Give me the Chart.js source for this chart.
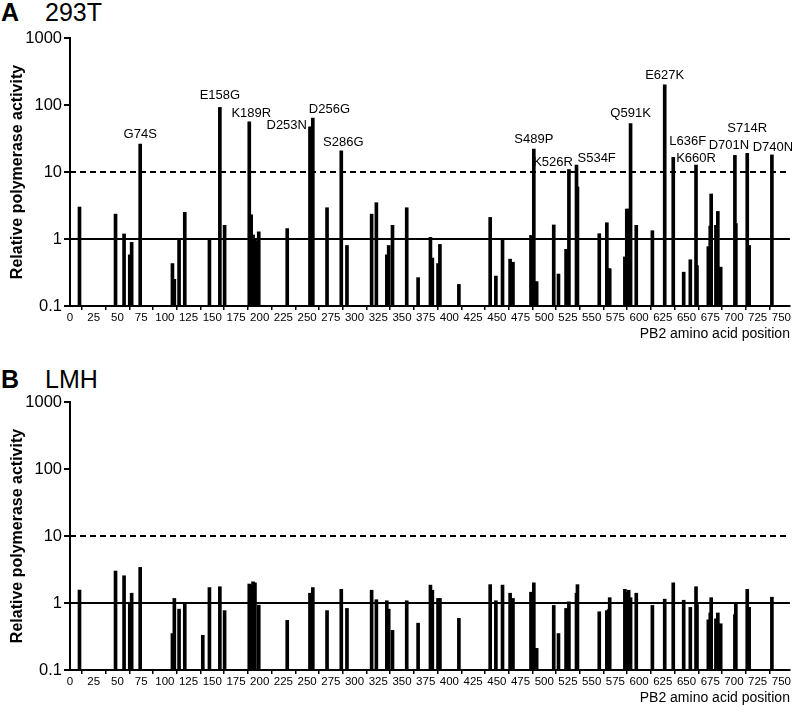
<!DOCTYPE html>
<html>
<head>
<meta charset="utf-8">
<script src="https://cdn.jsdelivr.net/npm/chart.js@4.4.1/dist/chart.umd.min.js"></script>
<style>
  body { margin: 0; background: #fff; }
  #wrap { position: relative; width: 792px; height: 707px; overflow: hidden; font-family: "Liberation Sans", Arial, sans-serif; }
  .panel { position: absolute; left: 0; }
  .tag { position: absolute; font-size: 25px; line-height: 1; color: #000; }
</style>
</head>
<body>
<div id="wrap">
  <div class="tag" style="left:1px;top:0px;font-weight:bold">A</div>
  <div class="tag" style="left:45px;top:0px">293T</div>
  <div class="tag" style="left:1px;top:367px;font-weight:bold">B</div>
  <div class="tag" style="left:45px;top:367px">LMH</div>
  <canvas id="chart293T" class="panel" style="top:0px" width="792" height="343"></canvas>
  <canvas id="chartLMH" class="panel" style="top:364px" width="792" height="343"></canvas>
</div>
<script>
// PB2 positions and relative activity, 293T cells
const positions293T = [10, 48, 57, 63, 65, 74, 108, 110, 115, 121, 147, 158, 163, 189, 191, 193, 195, 196, 199, 229,
  253, 254, 255, 256, 271, 286, 292, 318, 323, 334, 336, 340, 355, 367, 380, 382, 388, 390, 410, 443, 449, 456, 464, 467,
  486, 489, 491, 492, 510, 515, 523, 526, 534, 535, 558, 566, 568, 569, 585, 587, 589, 591, 597, 614, 627, 636, 647, 654,
  660, 661, 673, 675, 676, 681, 683, 686, 701, 702, 714, 716, 740];
const activity293T = [3.0, 2.35, 1.19, 0.58, 0.89, 26, 0.43, 0.25, 1.0, 2.5, 1.0, 92, 1.6, 56, 2.3, 1.15, 1.0, 0.93, 1.28, 1.43,
  47, 47, 45, 64, 2.93, 20.7, 0.8, 2.35, 3.48, 0.58, 0.8, 1.6, 2.93, 0.265, 1.06, 0.52, 0.43, 0.83, 0.21, 2.1, 0.28, 1.0, 0.5, 0.45,
  1.13, 22, 0.23, 0.23, 1.62, 0.3, 0.7, 10.9, 12.7, 6.0, 1.2, 1.75, 0.36, 0.36, 0.54, 2.8, 2.8, 53, 1.6, 1.33, 200, 16.5, 0.32, 0.49,
  12.7, 0.4, 0.77, 1.56, 4.7, 1.6, 2.58, 0.38, 17.7, 1.7, 19, 0.8, 18];
const mutations293T = ["G74S", "E158G", "K189R", "D253N", "D256G", "S286G", "S489P", "K526R", "S534F",
  "Q591K", "E627K", "L636F", "K660R", "D701N", "S714R", "D740N"];

// LMH cells
const positionsLMH = [10, 48, 57, 63, 65, 74, 108, 110, 115, 121, 140, 147, 158, 163, 189, 191, 193, 195, 199, 229,
  253, 256, 271, 286, 292, 318, 323, 334, 336, 340, 355, 367, 380, 382, 388, 390, 410, 443, 449, 456, 464, 467,
  486, 489, 491, 492, 510, 515, 523, 526, 534, 535, 558, 566, 568, 569, 585, 587, 589, 591, 597, 614, 627, 636, 647, 654,
  660, 661, 673, 675, 676, 681, 683, 686, 701, 702, 714, 716, 740];
const activityLMH = [1.56, 3.0, 2.55, 1.0, 1.4, 3.4, 0.35, 1.17, 0.81, 1.0, 0.33, 1.7, 1.75, 0.77, 1.92, 1.85, 2.07, 2.0, 0.93, 0.55,
  1.4, 1.7, 0.77, 1.6, 0.83, 1.55, 1.12, 1.08, 0.81, 0.39, 1.08, 0.5, 1.85, 1.55, 1.17, 1.17, 0.59, 1.88, 1.08, 1.85, 1.4, 1.17,
  1.45, 2.0, 0.21, 0.21, 0.92, 0.35, 0.83, 1.04, 1.4, 1.88, 0.74, 0.77, 0.8, 1.2, 1.6, 1.45, 1.55, 1.2, 1.4, 0.92, 1.14, 2.0, 1.1, 0.86,
  1.75, 0.95, 0.56, 0.71, 1.2, 0.58, 0.71, 0.49, 0.67, 0.98, 1.6, 0.86, 1.22];

const yTickValues = [0.1, 1, 10, 100, 1000];
const yTickLabels = ["0.1", "1", "10", "100", "1000"];
const thresholds = [1, 10]; // solid line, dashed line
const xMin = 0, xMax = 759, xStep = 25;

// where each mutation label sits relative to the top of its bar
const labelPlacement = {
  E158G: { dy: -8 },
  K189R: { dx: 2, dy: -5 },
  D253N: { align: "right", dx: -3, dy: 2 },
  D256G: { align: "left", dx: -4, dy: -5 },
  S286G: { dx: 2, dy: -5 },
  K526R: { align: "right", dx: 4, dy: -3 },
  S534F: { align: "left", dx: 1, dy: -3 },
  L636F: { align: "left", dx: -4, dy: -12 },
  K660R: { dy: -3 },
  D701N: { dx: -6 },
  S714R: { dy: -21 },
  D740N: { dx: 1, dy: -4 }
};

const FONT = "'Liberation Sans', Arial, sans-serif";

function labelPlugin(names) {
  return {
    id: "mutationLabels",
    afterDatasetsDraw(chart) {
      if (!names.length) return;
      const meta = chart.getDatasetMeta(0);
      const raw = chart.data.datasets[0].data;
      const ctx = chart.ctx;
      ctx.save();
      ctx.fillStyle = "#000";
      ctx.font = "13px " + FONT;
      ctx.textBaseline = "alphabetic";
      names.forEach((name) => {
        const pos = parseInt(name.replace(/\D/g, ""), 10);
        const idx = raw.findIndex((d) => d.x === pos);
        if (idx < 0) return;
        const bar = meta.data[idx];
        const p = Object.assign({ align: "center", dx: 0, dy: -6 }, labelPlacement[name] || {});
        ctx.textAlign = p.align;
        ctx.fillText(name, bar.x + p.dx, bar.y + p.dy);
      });
      ctx.restore();
    }
  };
}

function drawChart(id, positions, values, names) {
  const bars = positions.map((p, i) => ({ x: p, y: values[i] }));
  const lineAt = (v) => [{ x: xMin, y: v }, { x: xMax, y: v }];

  new Chart(document.getElementById(id).getContext("2d"), {
    type: "bar",
    data: {
      datasets: [
        { type: "bar", data: bars, backgroundColor: "#000", barThickness: 3, base: 0.1, order: 2 },
        { type: "line", data: lineAt(thresholds[0]), borderColor: "#000", borderWidth: 2, pointRadius: 0, order: 1 },
        { type: "line", data: lineAt(thresholds[1]), borderColor: "#000", borderWidth: 2, borderDash: [6, 4], pointRadius: 0, order: 1 }
      ]
    },
    options: {
      responsive: false,
      animation: false,
      layout: { padding: { top: 38, right: 2, left: 0, bottom: 0 } },
      plugins: { legend: { display: false }, tooltip: { enabled: false } },
      scales: {
        x: {
          type: "linear",
          min: xMin,
          max: xMax,
          offset: false,
          border: { color: "#000", width: 2 },
          grid: { drawOnChartArea: false, drawTicks: true, tickLength: 4, color: "#000", lineWidth: 1.5 },
          ticks: {
            stepSize: xStep,
            includeBounds: false,
            autoSkip: false,
            maxRotation: 0,
            padding: 1,
            color: "#000",
            font: { family: "'Liberation Sans Narrow', " + FONT, size: 11.5 }
          },
          title: {
            display: true,
            text: "PB2 amino acid position",
            align: "end",
            color: "#000",
            padding: { top: 0, bottom: 0 },
            font: { family: FONT, size: 14 }
          },
          afterFit: (s) => { s.height = 37; }
        },
        y: {
          type: "logarithmic",
          min: 0.1,
          max: 1000,
          border: { color: "#000", width: 2 },
          grid: { drawOnChartArea: false, drawTicks: true, tickLength: 6, color: "#000", lineWidth: 2 },
          afterBuildTicks: (s) => { s.ticks = yTickValues.map((v) => ({ value: v })); },
          ticks: {
            padding: 2,
            color: "#000",
            font: { family: FONT, size: 16.5 },
            callback: (v, i) => yTickLabels[i]
          },
          title: {
            display: true,
            text: "Relative polymerase activity",
            color: "#000",
            padding: { top: 8, bottom: 0 },
            font: { family: FONT, size: 16, weight: "bold" }
          },
          afterFit: (s) => { s.width = 70; }
        }
      }
    },
    plugins: [labelPlugin(names)]
  });
}

drawChart("chart293T", positions293T, activity293T, mutations293T);
drawChart("chartLMH", positionsLMH, activityLMH, []);
</script>
</body>
</html>
